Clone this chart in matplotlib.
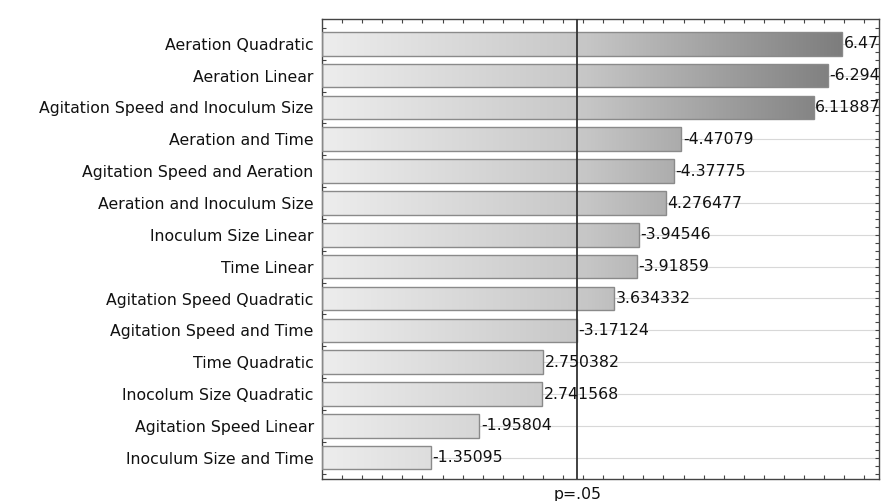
import numpy as np
import matplotlib
matplotlib.use("Agg")
import matplotlib.pyplot as plt
from matplotlib.colors import LinearSegmentedColormap
from matplotlib.patches import Rectangle

plt.rcParams['font.family'] = ['DejaVu Sans']

effects = [
    "Aeration Quadratic",
    "Aeration Linear",
    "Agitation Speed and Inoculum Size",
    "Aeration and Time",
    "Agitation Speed and Aeration",
    "Aeration and Inoculum Size",
    "Inoculum Size Linear",
    "Time Linear",
    "Agitation Speed Quadratic",
    "Agitation Speed and Time",
    "Time Quadratic",
    "Inocolum Size Quadratic",
    "Agitation Speed Linear",
    "Inoculum Size and Time",
]
estimates = [6.47, -6.294, 6.11887, -4.47079, -4.37775, 4.276477, -3.94546,
             -3.91859, 3.634332, -3.17124, 2.750382, 2.741568, -1.95804, -1.35095]
labels = ["6.47", "-6.294", "6.11887", "-4.47079", "-4.37775", "4.276477",
          "-3.94546", "-3.91859", "3.634332", "-3.17124", "2.750382",
          "2.741568", "-1.95804", "-1.35095"]
p_crit = 3.178

FS = 11.3

fig = plt.figure(figsize=(8.81, 5.02), dpi=100)
ax = fig.add_axes([0.3655, 0.0438, 0.632, 0.9162])

xmax = 6.93
ylim = (13.67, -0.775)

ypos = np.arange(len(effects))
heights = 0.74

# horizontal grid lines
for y in ypos:
    ax.axhline(y, color="#d8d8d8", lw=0.8, zorder=0)

cmap = LinearSegmentedColormap.from_list("bar", ["#ededed", "#c6c6c6", "#7a7a7a"])
grad = np.linspace(0, 1, 256).reshape(1, -1)

bars = ax.barh(ypos, np.abs(estimates), height=heights, color="none",
               edgecolor="#8a8a8a", linewidth=1.0, zorder=3)
for bar in bars:
    im = ax.imshow(grad, cmap=cmap, aspect="auto",
                   extent=[0, 6.6, len(effects), -1], zorder=2,
                   interpolation="bilinear")
    clip = Rectangle(bar.get_xy(), bar.get_width(), bar.get_height(),
                     transform=ax.transData)
    im.set_clip_path(clip)
ax.set_xlim(0, xmax)
ax.set_ylim(*ylim)

for y, v, lab in zip(ypos, estimates, labels):
    ax.text(abs(v) + 0.02, y - 0.03, lab, va="center", ha="left", fontsize=FS,
            color="#111111", clip_on=True, zorder=5)

ax.axvline(p_crit, color="#333333", lw=1.3, zorder=4)

ax.set_yticks(ypos - 0.03)
ax.set_yticklabels(effects, fontsize=FS, color="#111111")
ax.set_xticks([p_crit])
ax.set_xticklabels(["p=.05"], fontsize=FS, color="#111111")
ax.tick_params(axis="x", which="major", length=0, pad=5)
ax.tick_params(axis="y", which="major", length=0, pad=6)

ax.set_xticks(np.arange(0.25, xmax, 0.25), minor=True)
ax.set_yticks(np.arange(-0.5, 13.6, 0.25), minor=True)
ax.tick_params(which="minor", direction="in", length=3, width=0.8,
               top=True, bottom=True, left=True, right=True, color="#444444")

for s in ax.spines.values():
    s.set_color("#444444")
    s.set_linewidth(1.0)

fig.savefig("out.png", dpi=100)
